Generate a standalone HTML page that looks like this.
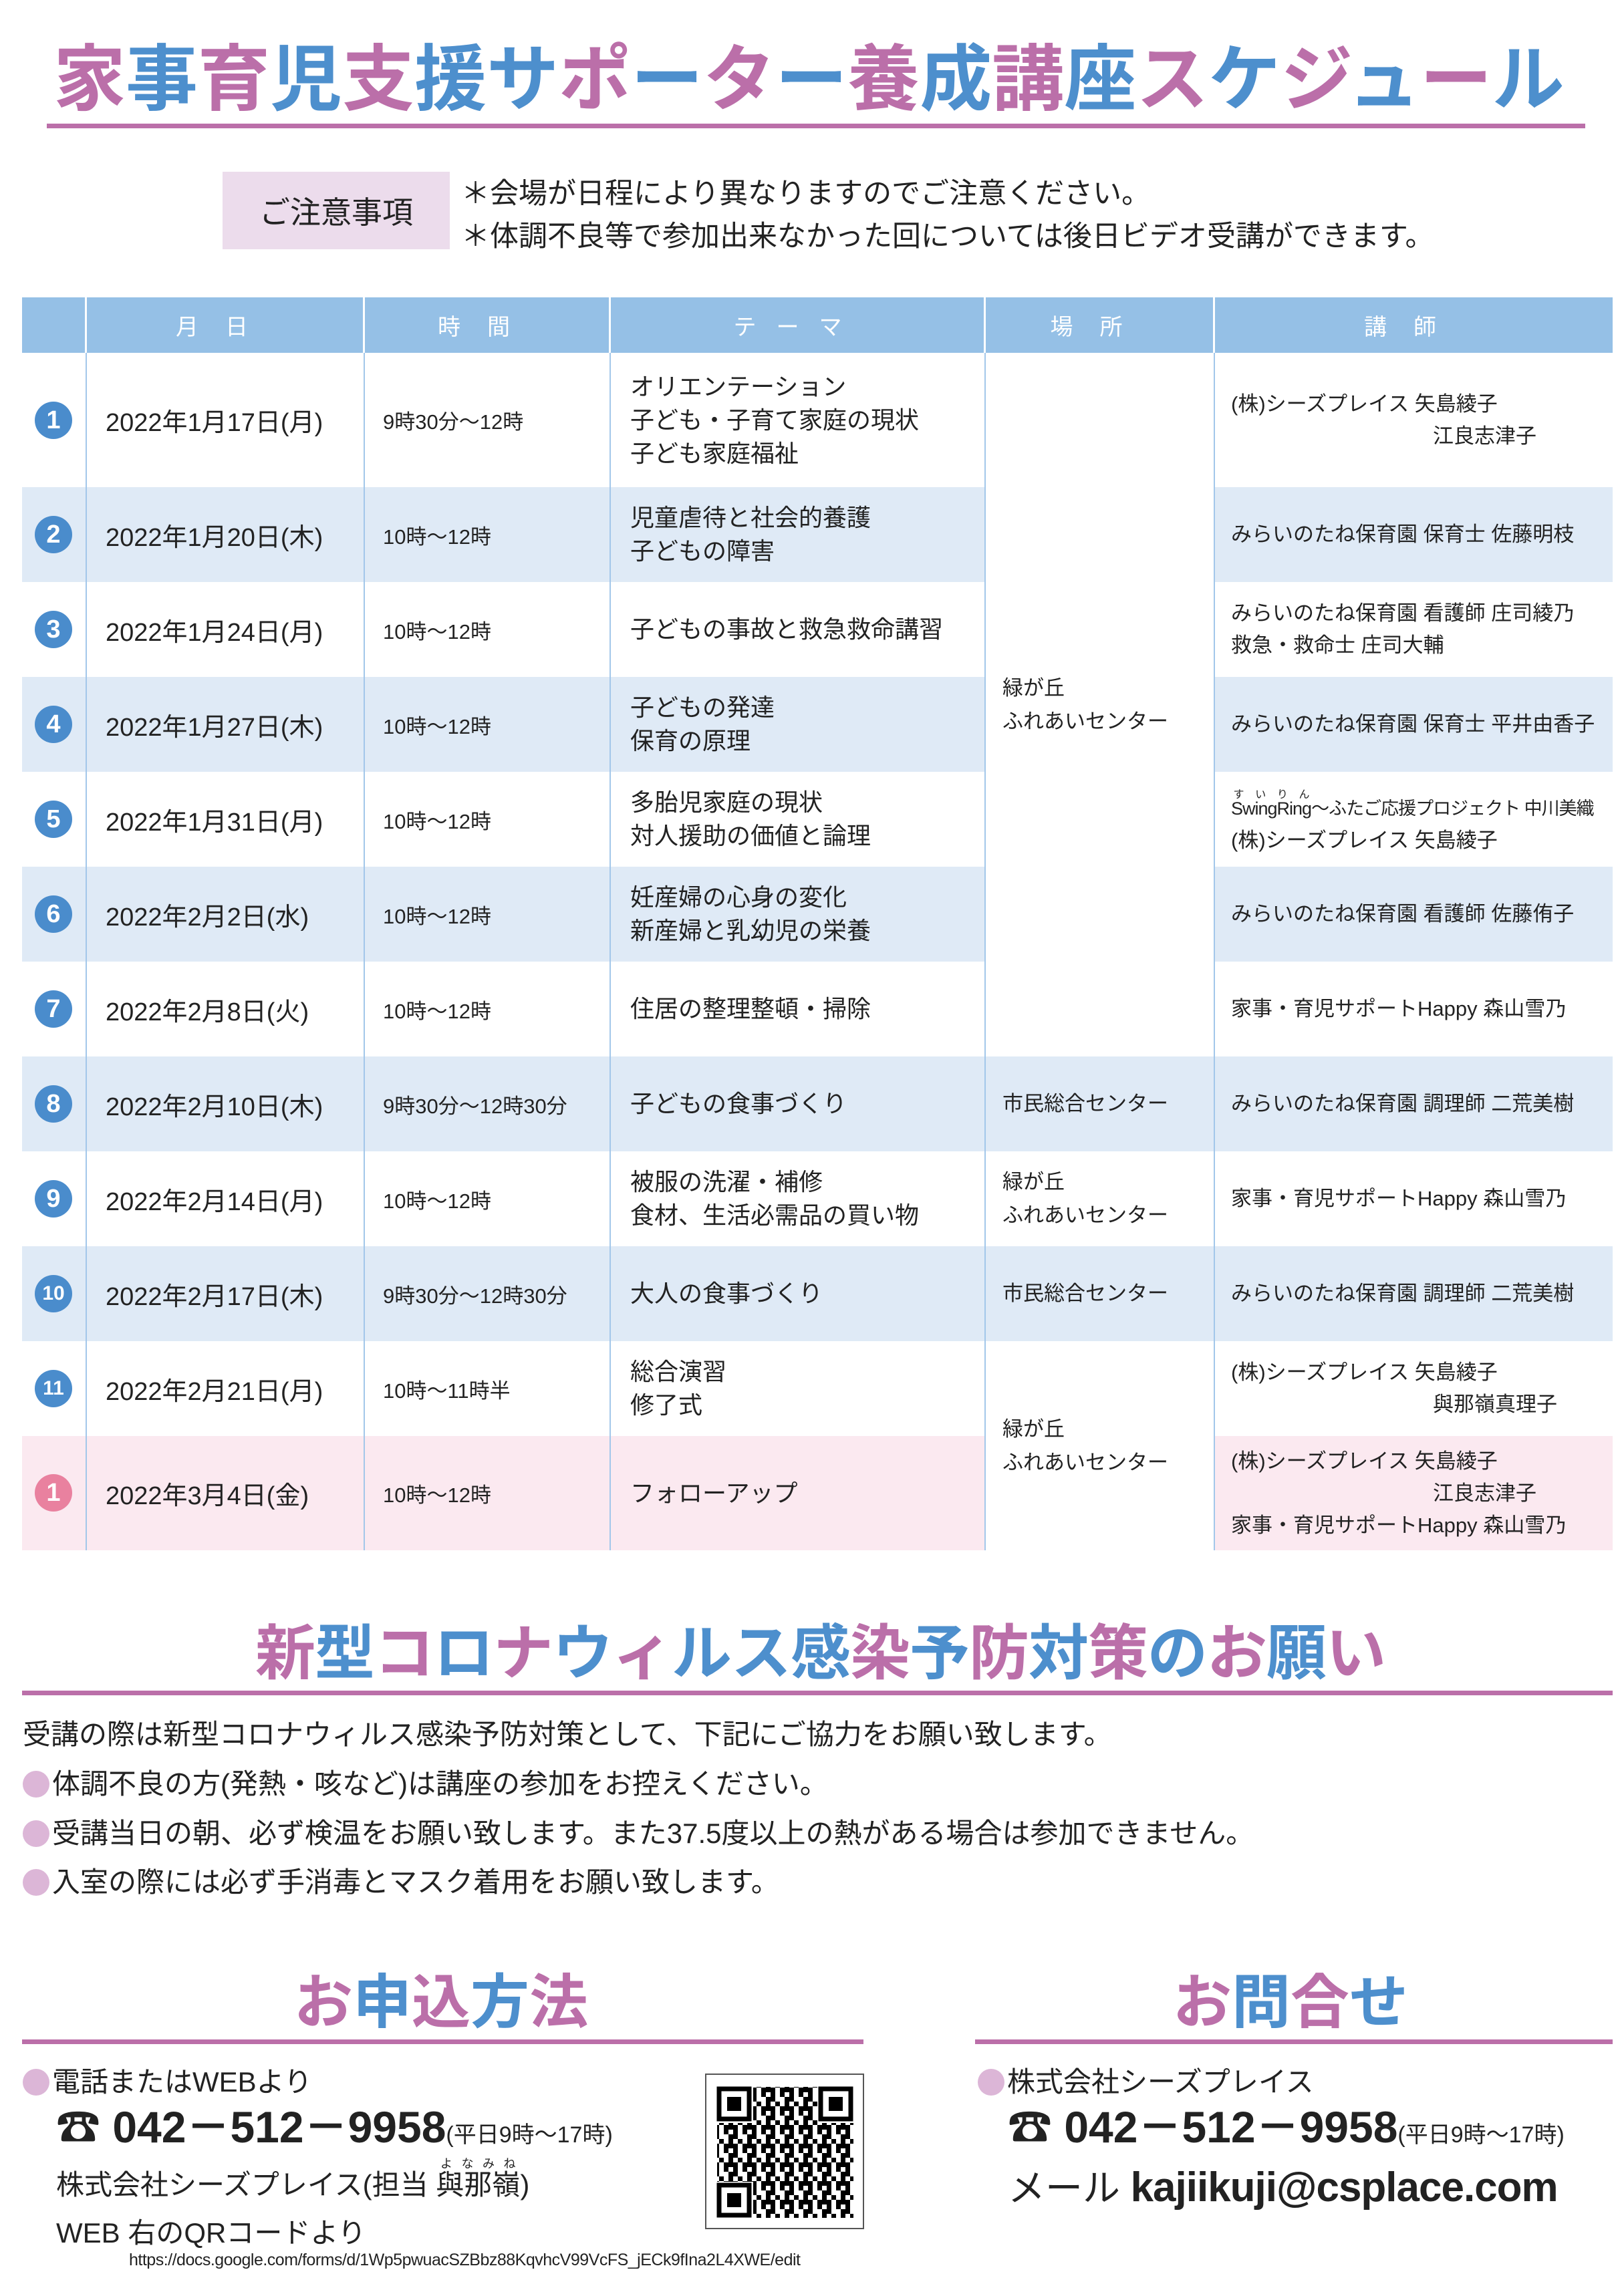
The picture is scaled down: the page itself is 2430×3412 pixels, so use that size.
<!DOCTYPE html>
<html><head><meta charset="utf-8"><style>
*{margin:0;padding:0;box-sizing:border-box}
body{width:2430px;height:3412px;background:#fff;position:relative;overflow:hidden;font-family:"Liberation Sans","Noto Sans CJK JP",sans-serif;color:#222}
.a{position:absolute}
.P{color:#bb6fa9}.B{color:#4d8fcd}
.h{font-weight:bold;font-family:"Noto Sans CJK JP",sans-serif;white-space:nowrap}
.c{position:absolute;display:flex;flex-direction:column;justify-content:center;white-space:nowrap}
.bar{position:absolute;background:#bb6fa9;height:7px}
.vl{position:absolute;width:2px;background:#a3c7ea}
.num{position:absolute;left:52px;width:56px;height:56px;border-radius:50%;background:#4a8ccc;color:#fff;font-weight:bold;font-size:38px;display:flex;align-items:center;justify-content:center;font-family:"Liberation Sans",sans-serif}
.d{left:158px;font-size:38px}
.t{left:573px;font-size:31px}
.th{left:943px;font-size:36px;line-height:50px}
.pl{left:1500px;font-size:31px;line-height:50px}
.le{left:1842px;font-size:31px;line-height:48px}
.hd{position:absolute;top:445px;height:83px;color:#fff;font-size:34px;display:flex;align-items:center;justify-content:center;letter-spacing:40px;font-family:"Noto Sans CJK JP",sans-serif}
.bul{display:inline-block;width:40px;height:40px;border-radius:50%;background:#dcb6d7;vertical-align:-6px;margin-right:4px}
.line{position:absolute;left:34px;font-size:42px;white-space:nowrap}
</style></head><body>

<div class="a h" style="left:80px;top:40px;font-size:108px;letter-spacing:0px;line-height:140px"><span class="P">家</span><span class="B">事</span><span class="P">育</span><span class="B">児</span><span class="P">支</span><span class="B">援</span><span class="B">サ</span><span class="P">ポ</span><span class="B">ー</span><span class="P">タ</span><span class="B">ー</span><span class="P">養</span><span class="B">成</span><span class="P">講</span><span class="B">座</span><span class="P">ス</span><span class="B">ケ</span><span class="P">ジ</span><span class="B">ュ</span><span class="P">ー</span><span class="B">ル</span></div>
<div class="bar" style="left:70px;top:185px;width:2302px"></div>

<div class="a" style="left:333px;top:257px;width:340px;height:116px;background:#ecdcec;display:flex;align-items:center;justify-content:center;font-size:46px">ご注意事項</div>
<div class="a" style="left:690px;top:258px;font-size:43px;line-height:64px;white-space:nowrap">＊会場が日程により異なりますのでご注意ください。<br>＊体調不良等で参加出来なかった回については後日ビデオ受講ができます。</div>

<div class="a" style="left:33px;top:445px;width:2380px;height:83px;background:#95c0e6"></div>
<div class="a" style="left:33px;top:729px;width:2380px;height:142px;background:#dfeaf6"></div>
<div class="a" style="left:33px;top:1013px;width:2380px;height:142px;background:#dfeaf6"></div>
<div class="a" style="left:33px;top:1297px;width:2380px;height:142px;background:#dfeaf6"></div>
<div class="a" style="left:33px;top:1581px;width:2380px;height:142px;background:#dfeaf6"></div>
<div class="a" style="left:33px;top:1865px;width:2380px;height:142px;background:#dfeaf6"></div>
<div class="a" style="left:33px;top:2149px;width:2380px;height:171px;background:#fbe9f0"></div>
<div class="a" style="left:1474px;top:528px;width:343px;height:1053px;background:#fff"></div>
<div class="a" style="left:1474px;top:2007px;width:343px;height:313px;background:#fff"></div>

<div class="a" style="left:127px;top:445px;width:3px;height:83px;background:#fff"></div>
<div class="a" style="left:543px;top:445px;width:3px;height:83px;background:#fff"></div>
<div class="a" style="left:911px;top:445px;width:3px;height:83px;background:#fff"></div>
<div class="a" style="left:1472px;top:445px;width:3px;height:83px;background:#fff"></div>
<div class="a" style="left:1815px;top:445px;width:3px;height:83px;background:#fff"></div>
<div class="hd" style="left:129px;width:416px">月日</div>
<div class="hd" style="left:545px;width:368px">時間</div>
<div class="hd" style="left:913px;width:561px;letter-spacing:30px">テーマ</div>
<div class="hd" style="left:1474px;width:343px">場所</div>
<div class="hd" style="left:1817px;width:596px">講師</div>

<div class="vl" style="left:128px;top:528px;height:1792px"></div>
<div class="vl" style="left:544px;top:528px;height:1792px"></div>
<div class="vl" style="left:912px;top:528px;height:1792px"></div>
<div class="vl" style="left:1473px;top:528px;height:1792px"></div>
<div class="vl" style="left:1816px;top:528px;height:1792px"></div>

<div class="num" style="top:601px">1</div>
<div class="c d" style="top:528px;height:201px">2022年1月17日(月)</div>
<div class="c t" style="top:528px;height:201px">9時30分～12時</div>
<div class="c th" style="top:528px;height:201px"><div>オリエンテーション</div><div>子ども・子育て家庭の現状</div><div>子ども家庭福祉</div></div>
<div class="c le" style="top:528px;height:201px"><div>(株)シーズプレイス 矢島綾子</div><div style="padding-left:302px">江良志津子</div></div>

<div class="num" style="top:772px">2</div>
<div class="c d" style="top:729px;height:142px">2022年1月20日(木)</div>
<div class="c t" style="top:729px;height:142px">10時～12時</div>
<div class="c th" style="top:729px;height:142px"><div>児童虐待と社会的養護</div><div>子どもの障害</div></div>
<div class="c le" style="top:729px;height:142px">みらいのたね保育園 保育士 佐藤明枝</div>

<div class="num" style="top:914px">3</div>
<div class="c d" style="top:871px;height:142px">2022年1月24日(月)</div>
<div class="c t" style="top:871px;height:142px">10時～12時</div>
<div class="c th" style="top:871px;height:142px">子どもの事故と救急救命講習</div>
<div class="c le" style="top:871px;height:142px"><div>みらいのたね保育園 看護師 庄司綾乃</div><div>救急・救命士 庄司大輔</div></div>

<div class="num" style="top:1056px">4</div>
<div class="c d" style="top:1013px;height:142px">2022年1月27日(木)</div>
<div class="c t" style="top:1013px;height:142px">10時～12時</div>
<div class="c th" style="top:1013px;height:142px"><div>子どもの発達</div><div>保育の原理</div></div>
<div class="c le" style="top:1013px;height:142px">みらいのたね保育園 保育士 平井由香子</div>

<div class="num" style="top:1198px">5</div>
<div class="c d" style="top:1155px;height:142px">2022年1月31日(月)</div>
<div class="c t" style="top:1155px;height:142px">10時～12時</div>
<div class="c th" style="top:1155px;height:142px"><div>多胎児家庭の現状</div><div>対人援助の価値と論理</div></div>
<div class="c le" style="top:1160px;height:142px"><div style="font-size:27px;letter-spacing:-1px"><ruby>SwingRing<rt style="font-size:16px">す い り ん</rt></ruby>～ふたご応援プロジェクト 中川美織</div><div>(株)シーズプレイス 矢島綾子</div></div>

<div class="num" style="top:1340px">6</div>
<div class="c d" style="top:1297px;height:142px">2022年2月2日(水)</div>
<div class="c t" style="top:1297px;height:142px">10時～12時</div>
<div class="c th" style="top:1297px;height:142px"><div>妊産婦の心身の変化</div><div>新産婦と乳幼児の栄養</div></div>
<div class="c le" style="top:1297px;height:142px">みらいのたね保育園 看護師 佐藤侑子</div>

<div class="num" style="top:1482px">7</div>
<div class="c d" style="top:1439px;height:142px">2022年2月8日(火)</div>
<div class="c t" style="top:1439px;height:142px">10時～12時</div>
<div class="c th" style="top:1439px;height:142px">住居の整理整頓・掃除</div>
<div class="c le" style="top:1439px;height:142px">家事・育児サポートHappy 森山雪乃</div>

<div class="c pl" style="top:528px;height:1053px"><div>緑が丘</div><div>ふれあいセンター</div></div>

<div class="num" style="top:1624px">8</div>
<div class="c d" style="top:1581px;height:142px">2022年2月10日(木)</div>
<div class="c t" style="top:1581px;height:142px">9時30分～12時30分</div>
<div class="c th" style="top:1581px;height:142px">子どもの食事づくり</div>
<div class="c pl" style="top:1581px;height:142px">市民総合センター</div>
<div class="c le" style="top:1581px;height:142px">みらいのたね保育園 調理師 二荒美樹</div>

<div class="num" style="top:1766px">9</div>
<div class="c d" style="top:1723px;height:142px">2022年2月14日(月)</div>
<div class="c t" style="top:1723px;height:142px">10時～12時</div>
<div class="c th" style="top:1723px;height:142px"><div>被服の洗濯・補修</div><div>食材、生活必需品の買い物</div></div>
<div class="c pl" style="top:1723px;height:142px"><div>緑が丘</div><div>ふれあいセンター</div></div>
<div class="c le" style="top:1723px;height:142px">家事・育児サポートHappy 森山雪乃</div>

<div class="num" style="top:1908px;font-size:30px">10</div>
<div class="c d" style="top:1865px;height:142px">2022年2月17日(木)</div>
<div class="c t" style="top:1865px;height:142px">9時30分～12時30分</div>
<div class="c th" style="top:1865px;height:142px">大人の食事づくり</div>
<div class="c pl" style="top:1865px;height:142px">市民総合センター</div>
<div class="c le" style="top:1865px;height:142px">みらいのたね保育園 調理師 二荒美樹</div>

<div class="num" style="top:2050px;font-size:30px">11</div>
<div class="c d" style="top:2007px;height:142px">2022年2月21日(月)</div>
<div class="c t" style="top:2007px;height:142px">10時～11時半</div>
<div class="c th" style="top:2007px;height:142px"><div>総合演習</div><div>修了式</div></div>
<div class="c le" style="top:2007px;height:142px"><div>(株)シーズプレイス 矢島綾子</div><div style="padding-left:302px">與那嶺真理子</div></div>

<div class="num" style="top:2206px;background:#e9819f">1</div>
<div class="c d" style="top:2149px;height:171px">2022年3月4日(金)</div>
<div class="c t" style="top:2149px;height:171px">10時～12時</div>
<div class="c th" style="top:2149px;height:171px">フォローアップ</div>
<div class="c le" style="top:2149px;height:171px"><div>(株)シーズプレイス 矢島綾子</div><div style="padding-left:302px">江良志津子</div><div>家事・育児サポートHappy 森山雪乃</div></div>
<div class="c pl" style="top:2007px;height:313px"><div>緑が丘</div><div>ふれあいセンター</div></div>

<div class="a h" style="left:382px;top:2406px;font-size:90px;line-height:120px;letter-spacing:-1px"><span class="P">新</span><span class="B">型</span><span class="P">コ</span><span class="B">ロ</span><span class="P">ナ</span><span class="B">ウ</span><span class="P">ィ</span><span class="B">ルス</span><span class="B">感</span><span class="P">染</span><span class="B">予</span><span class="P">防</span><span class="B">対</span><span class="P">策</span><span class="B">の</span><span class="P">お</span><span class="B">願</span><span class="P">い</span></div>
<div class="bar" style="left:33px;top:2530px;width:2380px"></div>
<div class="line" style="top:2562px">受講の際は新型コロナウィルス感染予防対策として、下記にご協力をお願い致します。</div>
<div class="line" style="top:2636px"><span class="bul"></span>体調不良の方(発熱・咳など)は講座の参加をお控えください。</div>
<div class="line" style="top:2710px"><span class="bul"></span>受講当日の朝、必ず検温をお願い致します。また37.5度以上の熱がある場合は参加できません。</div>
<div class="line" style="top:2783px"><span class="bul"></span>入室の際には必ず手消毒とマスク着用をお願い致します。</div>

<div class="a h" style="left:440px;top:2932px;font-size:88px;line-height:116px"><span class="P">お</span><span class="B">申</span><span class="P">込</span><span class="B">方</span><span class="P">法</span></div>
<div class="a h" style="left:1755px;top:2932px;font-size:88px;line-height:116px"><span class="P">お</span><span class="B">問</span><span class="P">合</span><span class="B">せ</span></div>
<div class="bar" style="left:33px;top:3052px;width:1259px"></div>
<div class="bar" style="left:1459px;top:3052px;width:954px"></div>

<div class="line" style="top:3082px"><span class="bul"></span>電話またはWEBより</div>
<div class="a" style="left:84px;top:3140px;white-space:nowrap;font-weight:bold;font-size:66px;line-height:86px">☎ 042－512－9958<span style="font-weight:normal;font-size:34px">(平日9時～17時)</span></div>
<div class="a" style="left:84px;top:3228px;white-space:nowrap;font-size:42px">株式会社シーズプレイス(担当 <ruby>與那嶺<rt style="font-size:18px">よなみね</rt></ruby>)</div>
<div class="a" style="left:84px;top:3308px;white-space:nowrap;font-size:42px">WEB 右のQRコードより</div>
<div class="a" style="left:193px;top:3368px;white-space:nowrap;font-size:25px;letter-spacing:-0.5px">https://docs.google.com/forms/d/1Wp5pwuacSZBbz88KqvhcV99VcFS_jECk9fIna2L4XWE/edit</div>

<svg class="a" style="left:1055px;top:3103px" width="238" height="233" viewBox="0 0 238 233">
<defs><pattern id="q" width="28" height="28" patternUnits="userSpaceOnUse">
<rect x="0" y="0" width="7" height="7"/><rect x="14" y="0" width="7" height="14"/><rect x="7" y="7" width="7" height="7"/><rect x="21" y="14" width="7" height="7"/><rect x="0" y="21" width="14" height="7"/><rect x="14" y="21" width="7" height="7"/><rect x="7" y="14" width="7" height="7"/></pattern></defs>
<rect x="1" y="1" width="236" height="231" fill="#fff" stroke="#555" stroke-width="2"/>
<rect x="18" y="20" width="204" height="196" fill="url(#q)"/>
<g fill="#fff"><rect x="16" y="18" width="56" height="56"/><rect x="168" y="18" width="56" height="56"/><rect x="16" y="162" width="56" height="56"/></g>
<g fill="none" stroke="#000" stroke-width="7"><rect x="21" y="23" width="45" height="45"/><rect x="173" y="23" width="45" height="45"/><rect x="21" y="167" width="45" height="45"/></g>
<g fill="#000"><rect x="33" y="35" width="21" height="21"/><rect x="185" y="35" width="21" height="21"/><rect x="33" y="179" width="21" height="21"/></g>
</svg>

<div class="line" style="top:3082px;left:1463px"><span class="bul"></span>株式会社シーズプレイス</div>
<div class="a" style="left:1508px;top:3140px;white-space:nowrap;font-weight:bold;font-size:66px;line-height:86px">☎ 042－512－9958<span style="font-weight:normal;font-size:34px">(平日9時～17時)</span></div>
<div class="a" style="left:1508px;top:3234px;white-space:nowrap;font-size:56px;line-height:80px">メール <b style="font-size:62px;letter-spacing:-1px">kajiikuji@csplace.com</b></div>
</body></html>
